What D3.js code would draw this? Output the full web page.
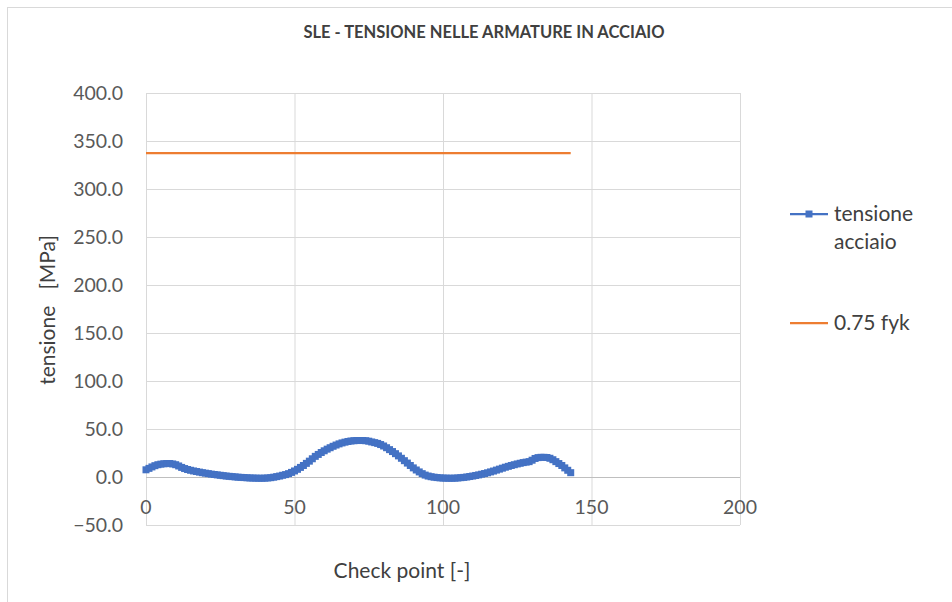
<!DOCTYPE html>
<html><head><meta charset="utf-8">
<script src="https://cdn.jsdelivr.net/npm/d3@7"></script>
<style>body{margin:0;background:#fff;}svg{display:block;font-family:Lato,"Open Sans",sans-serif;}</style>
</head><body><svg id="c" width="952" height="602"></svg>
<script>
const checkPoints = d3.range(0, 144);
const tensioneAcciaio = [7.5,9,10.5,11.8,12.8,13.4,13.8,14,14,13.6,12.8,11.5,10,8.8,7.8,7,6.3,5.7,5.1,4.5,
4,3.5,3,2.6,2.2,1.8,1.4,1.0,0.7,0.4,0.1,-0.2,-0.4,-0.6,-0.8,-1.0,-1.1,-1.2,-1.3,-1.3,
-1.2,-1.0,-0.7,-0.2,0.4,1.0,1.8,2.5,3.5,4.8,6.3,8,10,12,14.2,16.5,19,21.5,23.5,25.5,
27.3,29,30.5,32,33.3,34.5,35.5,36.3,37,37.5,37.8,38,38,38,37.8,37.3,36.5,35.8,35,33.8,
32.3,30.5,28.5,26.5,24.3,22,19.5,17,14.5,12,9.5,7.3,5.3,3.5,2,1,0.3,-0.2,-0.6,-0.9,
-1.1,-1.2,-1.3,-1.3,-1.2,-1.0,-0.7,-0.4,0,0.5,1.0,1.6,2.2,2.9,3.6,4.4,5.3,6.2,7.2,8.2,
9.2,10.2,11.1,12,12.8,13.6,14.3,15,15.5,16,17.5,19.3,20.2,20.5,20.5,20.3,19.5,18,16,14,
12,9.5,7,4.5];
const fykLimit = checkPoints.map(() => 337.5);
const xTicks = [0, 50, 100, 150, 200];
const yTicks = [-50, 0, 50, 100, 150, 200, 250, 300, 350, 400];
const seriesNames = ["tensione acciaio", "0.75 fyk"];
const colors = ["#4472C4", "#ED7D31"];

const svg = d3.select("#c");
svg.append("rect").attr("x",7.5).attr("y",7.5).attr("width",960).attr("height",620)
  .attr("fill","none").attr("stroke","#d9d9d9");

const x = d3.scaleLinear().domain([0,200]).range([146,740]);
const y = d3.scaleLinear().domain([-50,400]).range([525,93]);

svg.append("g").selectAll("line").data(yTicks).join("line")
  .attr("x1",x(0)).attr("x2",x(200)).attr("y1",d=>y(d)+0.5).attr("y2",d=>y(d)+0.5)
  .attr("stroke","#d9d9d9").attr("stroke-width",1);
svg.append("g").selectAll("line").data(xTicks).join("line")
  .attr("y1",y(400)).attr("y2",y(-50)).attr("x1",d=>x(d)+0.5).attr("x2",d=>x(d)+0.5)
  .attr("stroke","#d9d9d9").attr("stroke-width",1);
svg.append("line").attr("x1",x(0)).attr("x2",x(200)).attr("y1",y(0)+0.5).attr("y2",y(0)+0.5)
  .attr("stroke","#bfbfbf");

svg.append("g").selectAll("text").data(yTicks).join("text")
  .attr("x",123).attr("y",d=>y(d)).attr("dy","0.35em").attr("text-anchor","end")
  .attr("font-size",19.5).attr("fill","#595959").text(d=>d3.format(".1f")(d));
svg.append("g").selectAll("text").data(xTicks).join("text")
  .attr("x",d=>x(d)).attr("y",y(0)+37).attr("text-anchor","middle")
  .attr("font-size",19.5).attr("fill","#595959").text(d=>d);

const line = d3.line().x((d,i)=>x(checkPoints[i])).y(d=>y(d));
svg.append("path").datum(fykLimit).attr("d",line).attr("fill","none")
  .attr("stroke",colors[1]).attr("stroke-width",2.25);
svg.append("path").datum(tensioneAcciaio).attr("d",line).attr("fill","none")
  .attr("stroke",colors[0]).attr("stroke-width",2.5);
svg.append("g").selectAll("rect").data(tensioneAcciaio).join("rect")
  .attr("x",(d,i)=>x(checkPoints[i])-3.5).attr("y",d=>y(d)-3.5)
  .attr("width",7).attr("height",7).attr("fill",colors[0]);

svg.append("text").attr("x",484).attr("y",38).attr("text-anchor","middle")
  .attr("font-size",16.5).attr("font-weight","bold").attr("fill","#404040")
  .text("SLE - TENSIONE NELLE ARMATURE IN ACCIAIO");
svg.append("text").attr("x",402).attr("y",578).attr("text-anchor","middle")
  .attr("font-size",21).attr("fill","#404040").text("Check point [-]");
svg.append("text").attr("transform","translate(55,310) rotate(-90)").attr("text-anchor","middle")
  .attr("font-size",21).attr("fill","#404040").attr("xml:space","preserve").text("tensione   [MPa]");

const lg = svg.append("g");
lg.append("line").attr("x1",790).attr("x2",828).attr("y1",214).attr("y2",214).attr("stroke",colors[0]).attr("stroke-width",2.25);
lg.append("rect").attr("x",805.5).attr("y",210.5).attr("width",7).attr("height",7).attr("fill",colors[0]);
lg.append("text").attr("x",834).attr("y",214).attr("dy","0.35em").attr("font-size",21).attr("fill","#404040").text("tensione");
lg.append("text").attr("x",834).attr("y",242).attr("dy","0.35em").attr("font-size",21).attr("fill","#404040").text("acciaio");
lg.append("line").attr("x1",790).attr("x2",828).attr("y1",323).attr("y2",323).attr("stroke",colors[1]).attr("stroke-width",2.25);
lg.append("text").attr("x",834).attr("y",323).attr("dy","0.35em").attr("font-size",21).attr("fill","#404040").text(seriesNames[1]);
</script></body></html>
